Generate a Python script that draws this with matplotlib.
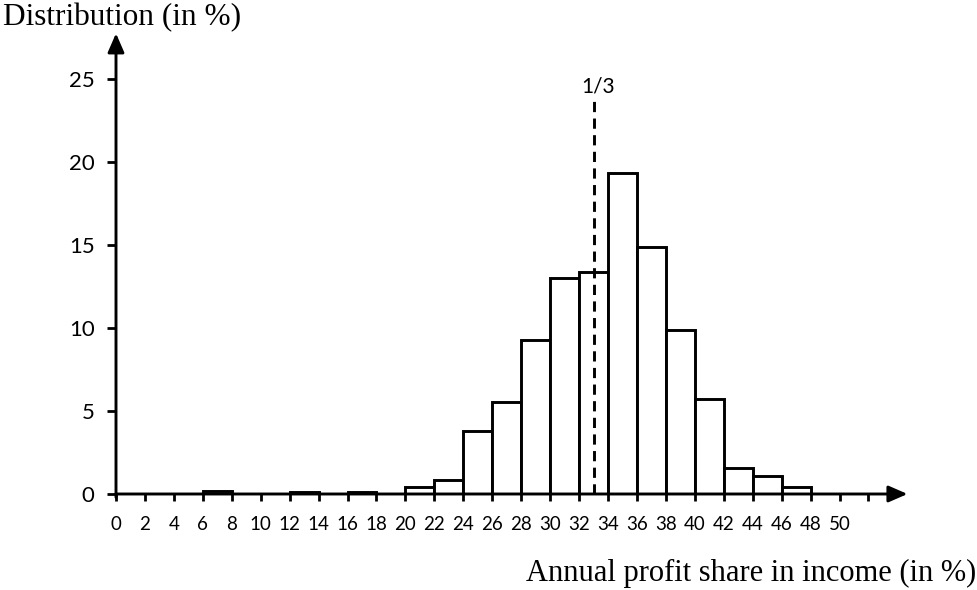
import matplotlib
matplotlib.use("Agg")
import matplotlib.pyplot as plt
import numpy as np

# Data
bin_left = [0, 2, 4, 6, 8, 10, 12, 14, 16, 18, 20, 22, 24, 26, 28, 30, 32, 34, 36, 38, 40, 42, 44, 46]
share = [0, 0, 0, 0.2, 0, 0, 0.1, 0, 0.1, 0, 0.45, 0.85, 3.8, 5.55, 9.3, 13.0, 13.35, 19.35, 14.9, 9.9, 5.75, 1.55, 1.1, 0.4]
x_ticks = list(range(0, 54, 2))
x_tick_labels = [str(v) if v <= 50 else "" for v in x_ticks]
y_ticks = [0, 5, 10, 15, 20, 25]
third_line = 33.0
third_label = "1/3"
title_y = "Distribution (in %)"
title_x = "Annual profit share in income (in %)"

W, H = 978, 590
fig = plt.figure(figsize=(W / 100, H / 100), dpi=100)
px_x = 14.47
px_y = 16.6
xmax, ymax = 56, 28
ax = fig.add_axes([116 / W, (H - 494) / H, xmax * px_x / W, ymax * px_y / H])
ax.set_xlim(0, xmax)
ax.set_ylim(0, ymax)
for s in ax.spines.values():
    s.set_visible(False)

lw = 2.1
nz = [(l, h) for l, h in zip(bin_left, share) if h > 0]
ax.bar([l for l, h in nz], [h for l, h in nz], width=2, align='edge',
       facecolor='white', edgecolor='black', linewidth=lw, zorder=3)

# axes with arrows
ax.annotate('', xy=(54.7, 0), xytext=(0, 0), annotation_clip=False,
            arrowprops=dict(arrowstyle='-|>,head_length=1.15,head_width=0.5',
                            mutation_scale=10, color='black', lw=lw,
                            shrinkA=0, shrinkB=0), zorder=4)
ax.annotate('', xy=(0, 27.75), xytext=(0, -0.2), annotation_clip=False,
            arrowprops=dict(arrowstyle='-|>,head_length=1.15,head_width=0.5',
                            mutation_scale=10, color='black', lw=lw,
                            shrinkA=0, shrinkB=0), zorder=4)

# 1/3 line
ax.plot([third_line, third_line], [0, 23.85], color='black', lw=2.1,
        linestyle=(0, (3.5, 2.2)), zorder=5)
ax.text(third_line + 0.3, 23.95, third_label, ha='center', va='bottom',
        fontsize=15, family='Lato')

ax.set_xticks(x_ticks)
ax.set_xticklabels(x_tick_labels, family='Lato', fontsize=13.5)
ax.set_yticks(y_ticks)
ax.set_yticklabels([str(v) for v in y_ticks], family='Lato', fontsize=16)
ax.tick_params(axis='x', direction='out', length=5, width=2, pad=11)
ax.tick_params(axis='y', direction='out', length=6.5, width=2, pad=9)

fig.text(3 / W, 1 - 18 / H, title_y, family='Liberation Serif', fontsize=22.5,
         ha='left', va='center')
fig.text(976 / W, 1 - 573 / H, title_x, family='Liberation Serif', fontsize=22,
         ha='right', va='center')

fig.savefig('out.png', dpi=100)
